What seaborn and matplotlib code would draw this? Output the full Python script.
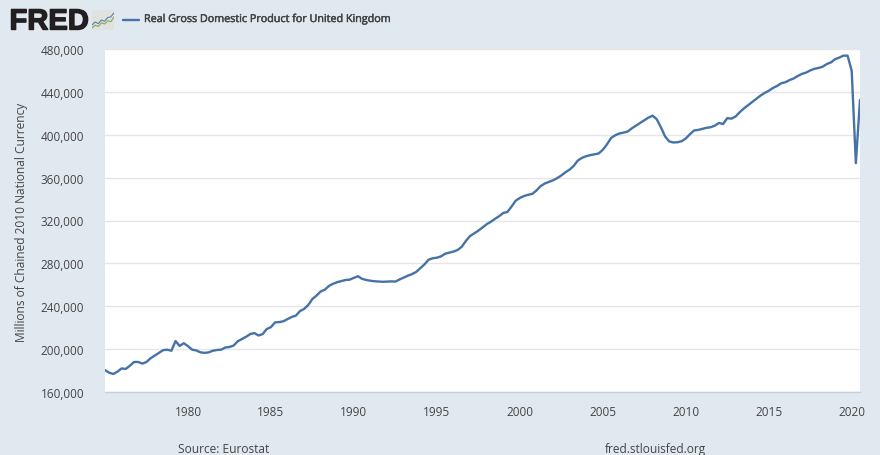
import pandas as pd
import matplotlib
matplotlib.use("Agg")
import matplotlib.pyplot as plt
import matplotlib.patheffects as pe
import seaborn as sns

start_year = 1975

# quarterly values, one row per year
gdp_1975_84 = [
    180500, 178000, 176800, 179000,
    182000, 181500, 184500, 188000,
    188000, 186500, 188000, 191500,
    194000, 196500, 199000, 199500,
    198500, 207500, 203000, 205500,
    202800, 199500, 198800, 197000,
    196500, 197000, 198500, 199200,
    199500, 201500, 202000, 203300,
    207300, 209400, 211500, 214000,
    215000, 212700, 214000, 218800,
]
gdp_1985_94 = [
    220500, 225000, 225200, 226000,
    228000, 230000, 231200, 235500,
    237500, 241200, 246800, 250000,
    253800, 255500, 259000, 261000,
    262500, 263500, 264500, 264800,
    266500, 268000, 265500, 264500,
    263800, 263300, 263000, 262800,
    263000, 263200, 263000, 265000,
    266800, 268500, 270000, 272000,
    275500, 279000, 283400, 284800,
]
gdp_1995_04 = [
    285300, 286500, 289000, 290000,
    291000, 292500, 295500, 301000,
    305500, 308000, 310500, 313500,
    316500, 318800, 321500, 324000,
    327000, 328000, 333000, 338500,
    341000, 342800, 344000, 344800,
    348000, 352000, 354500, 356000,
    357500, 359500, 362000, 365000,
    367500, 371000, 376000, 378500,
    380000, 381000, 381800, 382500,
]
gdp_2005_14 = [
    386000, 391000, 397000, 399500,
    401200, 402000, 403000, 406000,
    408500, 411000, 413500, 416000,
    417800, 414500, 407000, 398500,
    393800, 392800, 393000, 394000,
    396500, 400500, 404000, 404500,
    405500, 406500, 407000, 408500,
    411000, 410000, 415500, 415000,
    417000, 421000, 424500, 427500,
    430500, 433500, 436500, 439000,
]
gdp_2015_20 = [
    441000, 443600, 445500, 448000,
    449000, 451000, 452500, 454800,
    456800, 458000, 460000, 461500,
    462300, 463500, 466000, 467500,
    470500, 472000, 473800, 473800,
    459700, 373500, 432400,
]

gdp = gdp_1975_84 + gdp_1985_94 + gdp_1995_04 + gdp_2005_14 + gdp_2015_20
years = [start_year + i / 4 for i in range(len(gdp))]

y_ticks = [160000, 200000, 240000, 280000, 320000, 360000, 400000, 440000, 480000]
x_ticks = [1980, 1985, 1990, 1995, 2000, 2005, 2010, 2015, 2020]

title = "Real Gross Domestic Product for United Kingdom"
y_label = "Millions of Chained 2010 National Currency"

# little logo sparklines
logo_x = [0, 1, 2, 3, 4, 5, 6, 7]
logo_blue = [2.5, 4, 3.2, 5, 4.4, 6.2, 6.6, 8.6]
logo_green = [1, 2.4, 1.8, 3.6, 3, 4.6, 4.2, 6.6]

bg = "#e1e9f0"
line_col = "#4572a7"
text_col = "#444444"

sns.set_style("white")
plt.rcParams["font.family"] = ["Open Sans", "DejaVu Sans"]

W, H = 880, 456
fig = plt.figure(figsize=(W / 100, H / 100), dpi=100, facecolor=bg)
ax = fig.add_axes([105 / W, 1 - 393 / H, 755 / W, 343 / H])
ax.set_facecolor("white")

df = pd.DataFrame({"year": years, "gdp": gdp})
sns.lineplot(data=df, x="year", y="gdp", color=line_col, linewidth=1.7, ax=ax,
             errorbar=None, solid_joinstyle="round")

ax.set_xlim(1975, 2020.5)
ax.set_ylim(160000, 480000)
ax.set_xticks(x_ticks)
ax.set_yticks(y_ticks)
ax.set_yticklabels([f"{v:,}" for v in y_ticks])
ax.grid(axis="y", color="#e6e6e6", linewidth=1)
ax.set_axisbelow(True)
for side in ["top", "right", "left"]:
    ax.spines[side].set_visible(False)
ax.spines["bottom"].set_color("#c0d0e0")
ax.spines["bottom"].set_linewidth(1)
ax.tick_params(axis="x", length=3.5, width=1, color="#c0d0e0", labelsize=8.5,
               labelcolor=text_col, pad=5.6)
ax.tick_params(axis="y", length=0, labelsize=8.5, labelcolor=text_col, pad=15)
ax.set_xlabel("")
ax.set_ylabel("")

fig.text(22 / W, 1 - 222 / H, y_label, rotation=90, ha="center", va="center",
         fontsize=8.6, color=text_col)

# header
fig.text(9.5 / W, 1 - 30.5 / H, "FRED", fontsize=21, fontweight="bold", color="#231f20",
         family="Liberation Sans", va="baseline", ha="left",
         path_effects=[pe.withStroke(linewidth=1, foreground="#231f20")])
icon = fig.add_axes([92 / W, 1 - 31 / H, 22 / W, 20 / H], facecolor="#dfe2df")
icon.plot(logo_x, logo_blue, color="#5b80a8", linewidth=0.8)
icon.plot(logo_x, logo_green, color="#86a858", linewidth=0.8)
icon.set_xlim(0, 7)
icon.set_ylim(0, 10)
icon.set_xticks([])
icon.set_yticks([])
for side in icon.spines:
    icon.spines[side].set_visible(False)

fig.add_artist(plt.Line2D([123 / W, 139 / W], [1 - 20.5 / H] * 2, color=line_col, linewidth=1.7))
fig.text(144 / W, 1 - 20.5 / H, title, fontsize=7.75, color=text_col, va="center", ha="left",
         path_effects=[pe.withStroke(linewidth=0.35, foreground=text_col)])

# footer
fig.text(178 / W, 1 - 450 / H, "Source: Eurostat", fontsize=8.6, color=text_col, va="center")
fig.text(605 / W, 1 - 450 / H, "fred.stlouisfed.org", fontsize=8.6, color=text_col, va="center")

fig.savefig("out.png", dpi=100, facecolor=bg)
